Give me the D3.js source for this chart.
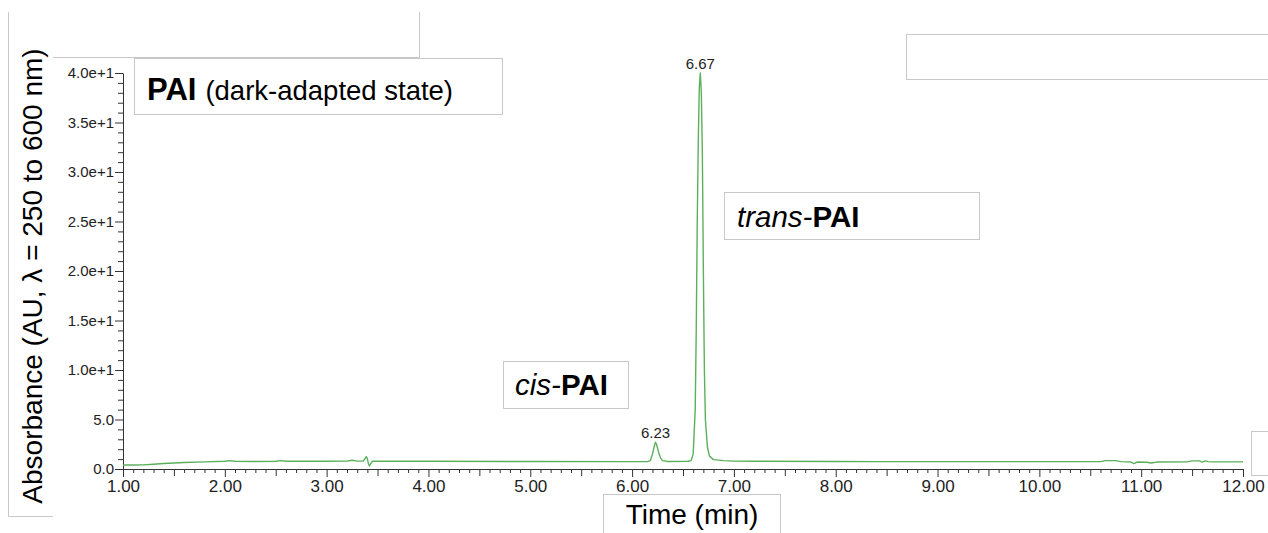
<!DOCTYPE html>
<html>
<head>
<meta charset="utf-8">
<script src="https://cdn.jsdelivr.net/npm/d3@7"></script>
<style>
  html, body { margin: 0; padding: 0; background: #fff; }
  svg { display: block; font-family: "Liberation Sans", Arial, sans-serif; }
</style>
</head>
<body>
<svg id="chart" width="1268" height="533"></svg>
<script>
// ---- data ----
const times = [1.00, 1.10, 1.20, 1.30, 1.40, 1.50, 1.60, 1.80, 2.00, 2.05, 2.10, 2.30, 2.50, 2.55, 2.60,
  3.00, 3.20, 3.25, 3.30, 3.36, 3.38, 3.39, 3.40, 3.41, 3.42, 3.43, 3.45, 4.00, 5.00, 6.00,
  6.15, 6.18, 6.20, 6.22, 6.23, 6.24, 6.26, 6.28, 6.30, 6.35, 6.55, 6.58, 6.60, 6.62, 6.63,
  6.64, 6.65, 6.66, 6.67, 6.68, 6.69, 6.70, 6.71, 6.72, 6.74, 6.76, 6.80, 6.90, 7.00, 7.20,
  8.00, 8.45, 9.00, 10.00, 10.60, 10.65, 10.75, 10.80, 10.90, 10.93, 10.96, 11.05, 11.10, 11.15,
  11.45, 11.50, 11.57, 11.60, 11.63, 11.66, 11.70, 12.00];
const absorbance = [0.40, 0.40, 0.42, 0.48, 0.55, 0.60, 0.65, 0.72, 0.78, 0.85, 0.78, 0.76, 0.78, 0.85, 0.78,
  0.78, 0.80, 0.88, 0.80, 0.80, 1.10, 1.25, 1.05, 0.55, 0.30, 0.50, 0.80, 0.78, 0.76, 0.74,
  0.74, 0.85, 1.50, 2.40, 2.70, 2.50, 1.70, 1.10, 0.85, 0.76, 0.78, 0.85, 1.50, 6.00, 14.0,
  25.0, 33.0, 38.5, 40.0, 38.0, 32.0, 20.0, 10.0, 5.0, 2.2, 1.3, 0.95, 0.85, 0.80, 0.78,
  0.76, 0.74, 0.74, 0.74, 0.75, 0.85, 0.85, 0.75, 0.70, 0.55, 0.70, 0.68, 0.60, 0.70,
  0.72, 0.82, 0.82, 0.70, 0.82, 0.75, 0.72, 0.72];
const peakTimes = [6.23, 6.67];
const peakLabels = ["6.23", "6.67"];
const xTicks = [1, 2, 3, 4, 5, 6, 7, 8, 9, 10, 11, 12];
const xTickLabels = ["1.00", "2.00", "3.00", "4.00", "5.00", "6.00", "7.00", "8.00", "9.00", "10.00", "11.00", "12.00"];
const yTicks = [0, 5, 10, 15, 20, 25, 30, 35, 40];
const yTickLabels = ["0.0", "5.0", "1.0e+1", "1.5e+1", "2.0e+1", "2.5e+1", "3.0e+1", "3.5e+1", "4.0e+1"];
const yTitle = "Absorbance (AU, \u03bb = 250 to 600 nm)";
const xTitle = "Time (min)";

// ---- chart ----
const svg = d3.select("#chart");
const x = d3.scaleLinear().domain([1, 12]).range([123, 1243]);
const y = d3.scaleLinear().domain([0, 40]).range([469, 73]);
const boxStroke = "#c8c8c8";

// background frame lines
svg.append("path")
  .attr("d", "M8.5,12 V516.5 H53 M53,57.5 H419.5 V12")
  .attr("fill", "none").attr("stroke", boxStroke).attr("stroke-width", 1);

// minor x ticks
const xMinor = d3.range(10, 121).map(d => d / 10).filter(d => Math.abs(d - Math.round(d)) > 1e-6);
svg.append("g").attr("transform", "translate(0,469)")
  .call(d3.axisBottom(x).tickValues(xMinor.filter(d => Math.abs(d * 2 - Math.round(d * 2)) > 1e-6)).tickSize(4).tickFormat(""))
  .call(g => g.select(".domain").remove());
svg.append("g").attr("transform", "translate(0,469)")
  .call(d3.axisBottom(x).tickValues(xMinor.filter(d => Math.abs(d * 2 - Math.round(d * 2)) < 1e-6)).tickSize(7).tickFormat(""))
  .call(g => g.select(".domain").remove());
// major x axis
const xAxis = svg.append("g").attr("transform", "translate(0,469)")
  .call(d3.axisBottom(x).tickValues(xTicks).tickSize(8).tickSizeOuter(0).tickPadding(3)
    .tickFormat((d, i) => xTickLabels[i]));
xAxis.selectAll("text").attr("font-size", 17).attr("fill", "#222").attr("font-family", "Liberation Sans, Arial, sans-serif");

// minor y ticks
svg.append("g").attr("transform", "translate(123,0)")
  .call(d3.axisLeft(y).tickValues(d3.range(0, 41, 1).filter(d => d % 5 !== 0)).tickSize(5).tickFormat(""))
  .call(g => g.select(".domain").remove());
const yAxis = svg.append("g").attr("transform", "translate(123,0)")
  .call(d3.axisLeft(y).tickValues(yTicks).tickSize(8).tickSizeOuter(0).tickPadding(1)
    .tickFormat((d, i) => yTickLabels[i]));
yAxis.selectAll("text").attr("font-size", 15).attr("fill", "#222").attr("font-family", "Liberation Sans, Arial, sans-serif");
svg.selectAll(".tick line").attr("stroke", "#333");
svg.selectAll(".domain").attr("stroke", "#333");

// trace
const data = times.map((t, i) => ({ t, a: absorbance[i] }));
svg.append("path").datum(data)
  .attr("fill", "none").attr("stroke", "#5cb05c").attr("stroke-width", 1.4)
  .attr("stroke-linejoin", "round")
  .attr("d", d3.line().x(d => x(d.t)).y(d => y(d.a)));

// peak labels
peakTimes.forEach((pt, i) => {
  const idx = times.indexOf(pt);
  svg.append("text").attr("x", x(pt)).attr("y", y(absorbance[idx]) - 4)
    .attr("text-anchor", "middle").attr("font-size", 15).attr("fill", "#222")
    .text(peakLabels[i]);
});

// annotation boxes
function box(x0, y0, w, h) {
  svg.append("rect").attr("x", x0 + 0.5).attr("y", y0 + 0.5).attr("width", w).attr("height", h)
    .attr("fill", "#fff").attr("stroke", boxStroke).attr("stroke-width", 1);
}
box(134, 58, 368, 56);
box(906, 34, 370, 45);
box(1251, 431, 30, 44);
box(503, 361, 125, 47);
box(724, 192, 255, 47);
box(603, 494, 177, 50);

// title box text
const t1 = svg.append("text").attr("x", 147).attr("y", 100).attr("fill", "#000");
t1.append("tspan").attr("font-weight", "bold").attr("font-size", 31).text("PAI");
t1.append("tspan").attr("font-size", 27.5).attr("dx", 9).text("(dark-adapted state)");

const t2 = svg.append("text").attr("x", 515).attr("y", 395).attr("fill", "#000").attr("font-size", 29.5);
t2.append("tspan").attr("font-style", "italic").text("cis-");
t2.append("tspan").attr("font-weight", "bold").text("PAI");

const t3 = svg.append("text").attr("x", 737).attr("y", 227).attr("fill", "#000").attr("font-size", 29.5);
t3.append("tspan").attr("font-style", "italic").text("trans-");
t3.append("tspan").attr("font-weight", "bold").text("PAI");

// axis titles
svg.append("text").attr("x", 692).attr("y", 524).attr("text-anchor", "middle")
  .attr("font-size", 28).attr("fill", "#000").text(xTitle);
svg.append("text").attr("transform", "translate(42,276) rotate(-90)").attr("text-anchor", "middle")
  .attr("font-size", 28).attr("fill", "#000").text(yTitle);
</script>
</body>
</html>
